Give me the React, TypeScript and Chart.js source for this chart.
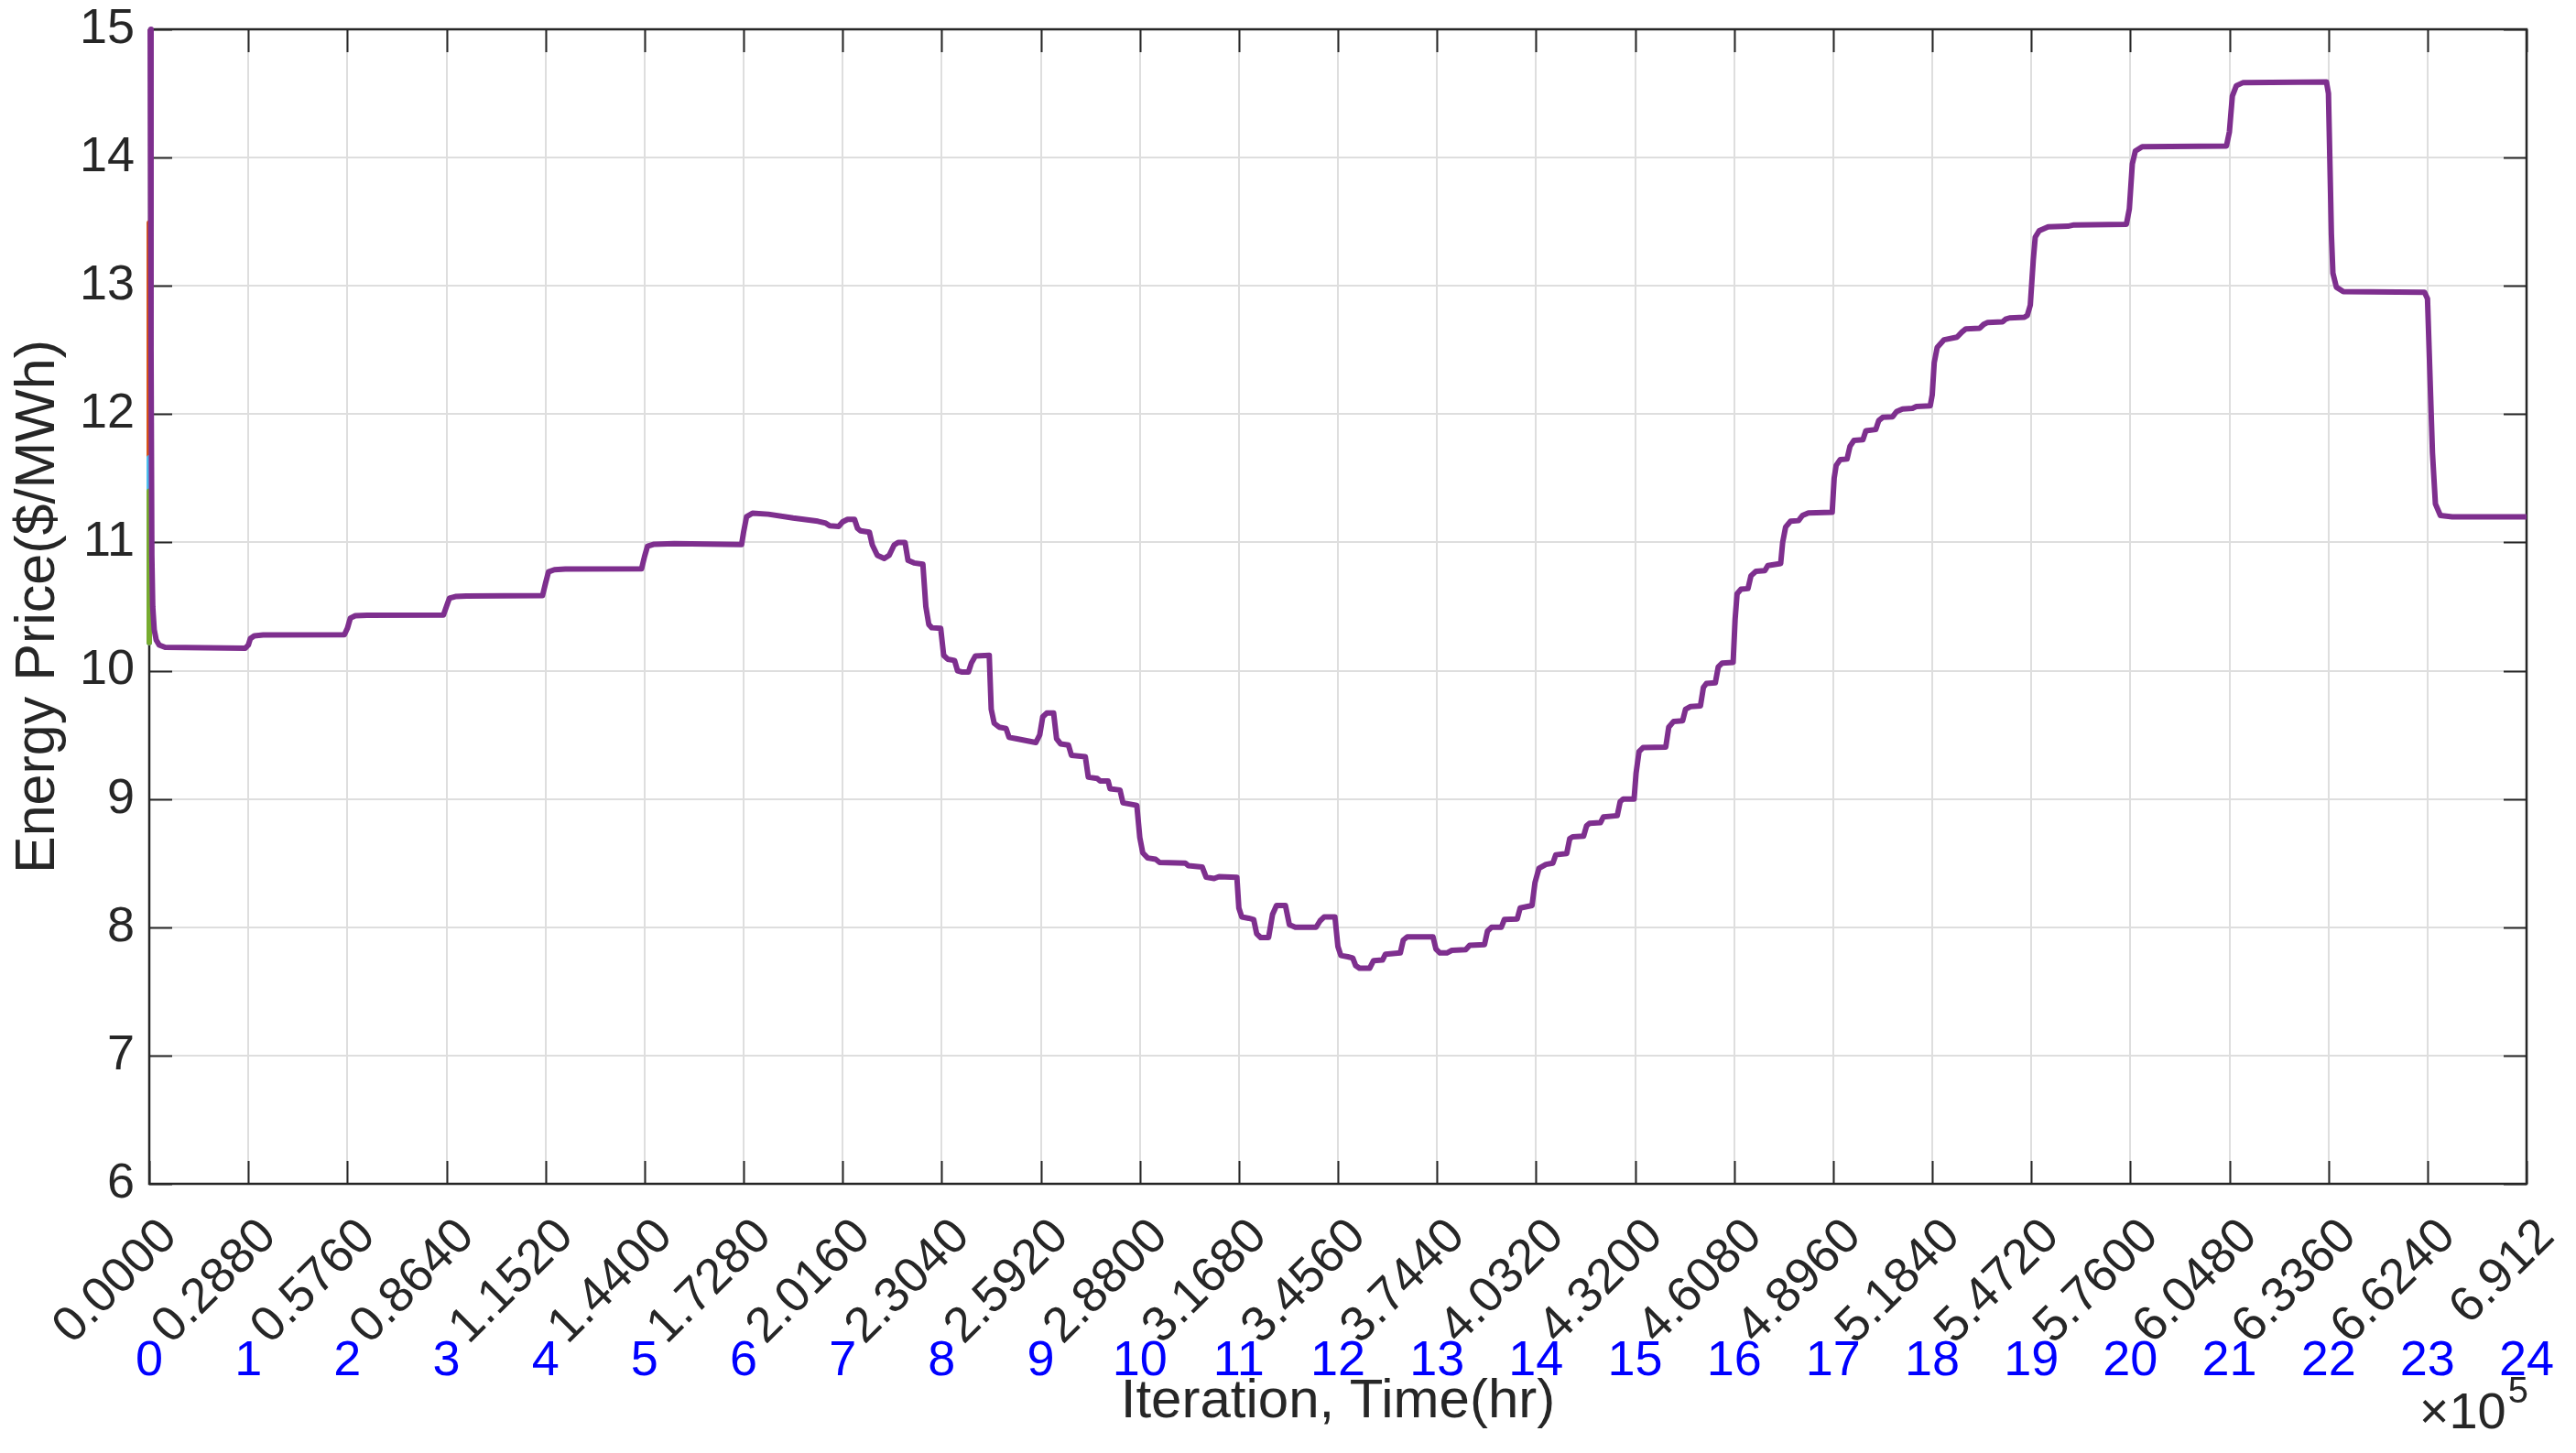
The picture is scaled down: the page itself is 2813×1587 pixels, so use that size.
import React, { useEffect, useRef } from 'react';
import { Chart, registerables } from 'chart.js';

Chart.register(...registerables);

const FONT = '"Liberation Sans", Arial, Helvetica, sans-serif';
const TEXT = '#262626';
const GRID = '#DEDEDE';

const ITER_PER_HOUR = 28800;

const hourTicks = [0, 1, 2, 3, 4, 5, 6, 7, 8, 9, 10, 11, 12, 13, 14, 15, 16, 17, 18, 19, 20, 21, 22, 23, 24];
const iterTickLabels = [
  '0.0000', '0.2880', '0.5760', '0.8640', '1.1520', '1.4400', '1.7280', '2.0160', '2.3040',
  '2.5920', '2.8800', '3.1680', '3.4560', '3.7440', '4.0320', '4.3200', '4.6080', '4.8960',
  '5.1840', '5.4720', '5.7600', '6.0480', '6.3360', '6.6240', '6.912',
];
const hourTickLabels = ['0', '1', '2', '3', '4', '5', '6', '7', '8', '9', '10', '11', '12', '13', '14', '15', '16', '17', '18', '19', '20', '21', '22', '23', '24'];
const yTicks = [6, 7, 8, 9, 10, 11, 12, 13, 14, 15];

// Purple (main) series: time in hours, price in $/MWh
const priceHours = [
  0.01, 0.018, 0.026, 0.035, 0.05, 0.07, 0.1, 0.16, 0.97,
  1.0, 1.02, 1.06, 1.15, 1.97,
  2.0, 2.03, 2.08, 2.2, 2.97,
  3.0, 3.03, 3.09, 3.2, 3.97,
  4.0, 4.03, 4.09, 4.2, 4.97,
  5.0, 5.03, 5.09, 5.3, 5.98,
  6.0, 6.03, 6.09, 6.25, 6.5, 6.75, 6.83, 6.87, 6.96,
  7.0, 7.05, 7.12, 7.15, 7.18, 7.27, 7.3, 7.35, 7.42, 7.47, 7.52, 7.56, 7.63, 7.66, 7.72, 7.81, 7.84, 7.87, 7.9, 7.99,
  8.02, 8.06, 8.13, 8.16, 8.2, 8.27, 8.3, 8.34, 8.48, 8.5, 8.53, 8.58, 8.65, 8.68, 8.75, 8.95, 8.99,
  9.02, 9.06, 9.13, 9.16, 9.2, 9.28, 9.31, 9.45, 9.48, 9.57, 9.6, 9.68, 9.7, 9.8, 9.83, 9.97,
  10.0, 10.03, 10.08, 10.16, 10.2, 10.46, 10.49, 10.63, 10.67, 10.75, 10.8, 10.98,
  11.0, 11.03, 11.1, 11.15, 11.18, 11.22, 11.3, 11.34, 11.38, 11.47, 11.51, 11.57, 11.78, 11.82, 11.86, 11.97,
  12.0, 12.03, 12.1, 12.15, 12.18, 12.22, 12.32, 12.36, 12.45, 12.48, 12.63, 12.66, 12.7, 12.96, 12.99,
  13.03, 13.1, 13.15, 13.29, 13.33, 13.48, 13.51, 13.55, 13.65, 13.68, 13.81, 13.84, 13.96, 13.99,
  14.03, 14.1, 14.17, 14.2, 14.31, 14.34, 14.37, 14.48, 14.51, 14.54, 14.65, 14.68, 14.82, 14.85, 14.88, 14.99,
  15.01, 15.04, 15.08, 15.31, 15.34, 15.39, 15.48, 15.51, 15.56, 15.66, 15.69, 15.72, 15.81, 15.84, 15.88, 15.99,
  16.01, 16.03, 16.07, 16.14, 16.17, 16.22, 16.31, 16.34, 16.47, 16.49, 16.52, 16.57, 16.65, 16.69, 16.75, 16.99,
  17.01, 17.03, 17.07, 17.14, 17.17, 17.21, 17.3, 17.33, 17.43, 17.46, 17.5, 17.6, 17.64, 17.7, 17.8, 17.84, 17.98,
  18.0, 18.02, 18.05, 18.12, 18.25, 18.3, 18.34, 18.48, 18.52, 18.56, 18.71, 18.74, 18.78, 18.93, 18.96, 18.99,
  19.02, 19.04, 19.08, 19.17, 19.37, 19.43, 19.96, 19.99,
  20.02, 20.05, 20.12, 20.97,
  21.0, 21.03, 21.07, 21.14, 21.98,
  22.0, 22.03, 22.045, 22.08, 22.15, 22.97,
  23.0, 23.05, 23.08, 23.13, 23.25, 24.0,
];
const priceValues = [
  15.0, 12.5, 10.9, 10.5, 10.32, 10.24, 10.2, 10.182, 10.176,
  10.2, 10.25, 10.272, 10.278, 10.28,
  10.33, 10.41, 10.428, 10.432, 10.434,
  10.5, 10.565, 10.578, 10.582, 10.585,
  10.68, 10.77, 10.787, 10.792, 10.795,
  10.89, 10.97, 10.985, 10.99, 10.984,
  11.08, 11.2, 11.228, 11.22, 11.19, 11.165, 11.15, 11.13, 11.125,
  11.16, 11.18, 11.18, 11.11, 11.09, 11.08, 10.98, 10.9, 10.875, 10.9, 10.98, 11.0, 11.0, 10.86, 10.84, 10.83, 10.5, 10.36, 10.335, 10.33,
  10.12, 10.09, 10.08, 10.0, 9.99, 9.99, 10.06, 10.115, 10.12, 9.7, 9.59, 9.56, 9.55, 9.48, 9.47, 9.44, 9.5,
  9.64, 9.67, 9.67, 9.47, 9.43, 9.42, 9.34, 9.33, 9.17, 9.16, 9.14, 9.14, 9.08, 9.07, 8.97, 8.95,
  8.7, 8.58, 8.54, 8.53, 8.505, 8.5, 8.48, 8.47, 8.39, 8.38, 8.395, 8.39,
  8.15, 8.08, 8.07, 8.06, 7.95, 7.92, 7.92, 8.1, 8.17, 8.17, 8.02, 8.0, 8.0, 8.05, 8.08, 8.08,
  7.85, 7.78, 7.77, 7.76, 7.7, 7.68, 7.68, 7.74, 7.745, 7.79, 7.8, 7.9, 7.925, 7.925, 7.83,
  7.8, 7.8, 7.82, 7.825, 7.86, 7.865, 7.97, 8.0, 8.0, 8.06, 8.065, 8.15, 8.17, 8.35,
  8.46, 8.49, 8.5, 8.565, 8.575, 8.69, 8.705, 8.71, 8.79, 8.81, 8.815, 8.86, 8.87, 8.98, 9.0, 9.0,
  9.2, 9.37, 9.4, 9.405, 9.56, 9.605, 9.61, 9.7, 9.72, 9.725, 9.87, 9.9, 9.905, 10.03, 10.06, 10.065,
  10.4, 10.6, 10.635, 10.64, 10.74, 10.775, 10.78, 10.82, 10.835, 11.0, 11.12, 11.165, 11.17, 11.21, 11.23, 11.235,
  11.5, 11.6, 11.645, 11.65, 11.75, 11.795, 11.8, 11.87, 11.88, 11.95, 11.975, 11.98, 12.02, 12.04, 12.045, 12.06, 12.065,
  12.15, 12.4, 12.52, 12.58, 12.6, 12.64, 12.665, 12.67, 12.7, 12.715, 12.72, 12.74, 12.75, 12.755, 12.77, 12.85,
  13.2, 13.38, 13.43, 13.46, 13.465, 13.475, 13.48, 13.6,
  13.95, 14.05, 14.085, 14.09,
  14.2, 14.48, 14.56, 14.585, 14.59,
  14.5, 13.4, 13.1, 12.99, 12.955, 12.95,
  12.9, 11.7, 11.3, 11.21, 11.2, 11.2,
];

// Other agents' prices, only visible at the very start (they converge under the purple curve)
const orangeHours = [0, 0];
const orangeValues = [13.49, 10.22];
const cyanHours = [0, 0];
const cyanValues = [11.66, 10.22];
const greenHours = [0, 0];
const greenValues = [11.4, 10.22];

const toPoints = (hours: number[], values: number[]) =>
  hours.map((h, i) => ({ x: h * ITER_PER_HOUR, y: values[i] }));

const matlabAxesPlugin = {
  id: 'matlabAxes',
  beforeDatasetsDraw(chart: any) {
    const { ctx, chartArea } = chart;
    const { left, right, top, bottom } = chartArea;
    const xs = chart.scales.x;
    const ys = chart.scales.y;
    const TL = 25;
    ctx.save();
    ctx.strokeStyle = TEXT;
    ctx.lineWidth = 2;
    ctx.beginPath();
    xs.ticks.forEach((t: any) => {
      const px = Math.round(xs.getPixelForValue(t.value)) + 0.5;
      ctx.moveTo(px, bottom);
      ctx.lineTo(px, bottom - TL);
      ctx.moveTo(px, top);
      ctx.lineTo(px, top + TL);
    });
    ys.ticks.forEach((t: any) => {
      const py = Math.round(ys.getPixelForValue(t.value)) + 0.5;
      ctx.moveTo(left, py);
      ctx.lineTo(left + TL, py);
      ctx.moveTo(right, py);
      ctx.lineTo(right - TL, py);
    });
    ctx.stroke();
    ctx.lineWidth = 2.5;
    ctx.strokeRect(left, top, right - left, bottom - top);
    ctx.restore();
  },
  afterDraw(chart: any) {
    const { ctx, chartArea } = chart;
    const xs = chart.scales.x;
    ctx.save();
    // blue hour labels under the iteration labels
    ctx.fillStyle = '#0000FF';
    ctx.font = `54px ${FONT}`;
    ctx.textAlign = 'center';
    ctx.textBaseline = 'middle';
    hourTicks.forEach((h, i) => {
      ctx.fillText(hourTickLabels[i], xs.getPixelForValue(h * ITER_PER_HOUR), 1487);
    });
    // x10^5 exponent label
    ctx.fillStyle = TEXT;
    ctx.textBaseline = 'alphabetic';
    ctx.textAlign = 'left';
    ctx.font = `40px ${FONT}`;
    const w5 = ctx.measureText('5').width;
    const xr = chartArea.right + 2;
    ctx.fillText('5', xr - w5, 1532);
    ctx.font = `56px ${FONT}`;
    ctx.textAlign = 'right';
    ctx.fillText('\u00D710', xr - w5 - 2, 1560);
    ctx.restore();
  },
};

export default function App() {
  const ref = useRef<HTMLCanvasElement>(null);

  useEffect(() => {
    document.body.style.margin = '0';
    const canvas = ref.current;
    if (!canvas) return;
    const xMax = 24 * ITER_PER_HOUR;
    const lineBase = { pointRadius: 0, tension: 0, borderWidth: 6, clip: false as any, borderJoinStyle: 'round' as any };
    const chart = new Chart(canvas, {
      type: 'line',
      data: {
        datasets: [
          { ...lineBase, label: 'Agent 4', data: toPoints(priceHours, priceValues), borderColor: '#7E2F8E', order: 0 },
          { ...lineBase, label: 'Agent 5', data: toPoints(greenHours, greenValues), borderColor: '#77AC30', order: 1 },
          { ...lineBase, label: 'Agent 6', data: toPoints(cyanHours, cyanValues), borderColor: '#4DBEEE', order: 2 },
          { ...lineBase, label: 'Agent 2', data: toPoints(orangeHours, orangeValues), borderColor: '#D95319', order: 3 },
        ],
      },
      options: {
        responsive: false,
        devicePixelRatio: 1,
        animation: false,
        layout: { padding: { top: 32, right: 54, left: 0, bottom: 0 } },
        plugins: { legend: { display: false }, tooltip: { enabled: false } },
        scales: {
          x: {
            type: 'linear',
            position: 'bottom',
            min: 0,
            max: xMax,
            afterBuildTicks: (s: any) => {
              s.ticks = hourTicks.map((h) => ({ value: h * ITER_PER_HOUR }));
            },
            afterFit: (s: any) => {
              s.height = 294;
              s.paddingLeft = 0;
              s.paddingRight = 0;
            },
            ticks: {
              autoSkip: false,
              minRotation: 45,
              maxRotation: 45,
              padding: 26,
              labelOffset: 22,
              color: TEXT,
              font: { family: FONT, size: 54 },
              callback: (_v: any, i: number) => iterTickLabels[i],
            },
            grid: { color: GRID, lineWidth: 2, drawTicks: false },
            border: { display: false },
            title: {
              display: true,
              text: 'Iteration, Time(hr)',
              color: TEXT,
              font: { family: FONT, size: 60 },
              padding: { top: 0, bottom: 20 },
            },
          },
          y: {
            type: 'linear',
            position: 'left',
            min: 6,
            max: 15,
            afterBuildTicks: (s: any) => {
              s.ticks = yTicks.map((v) => ({ value: v }));
            },
            afterFit: (s: any) => {
              s.width = 163;
              s.paddingTop = 0;
              s.paddingBottom = 0;
            },
            ticks: {
              padding: 16,
              color: TEXT,
              font: { family: FONT, size: 54 },
              callback: (v: any) => String(v),
            },
            grid: { color: GRID, lineWidth: 2, drawTicks: false },
            border: { display: false },
            title: {
              display: true,
              text: 'Energy Price($/MWh)',
              color: TEXT,
              font: { family: FONT, size: 61 },
              padding: { top: 6, bottom: 0 },
            },
          },
        },
      },
      plugins: [matlabAxesPlugin],
    } as any);
    return () => chart.destroy();
  }, []);

  return (
    <div style={{ position: 'fixed', left: 0, top: 0, width: 2813, height: 1587, background: '#ffffff' }}>
      <canvas ref={ref} width={2813} height={1587} style={{ display: 'block', width: 2813, height: 1587 }} />
    </div>
  );
}
